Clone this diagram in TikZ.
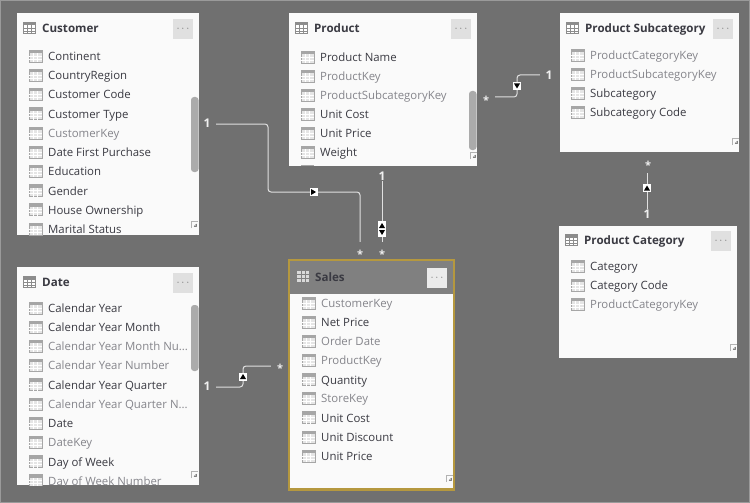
\documentclass[tikz,border=0pt]{standalone}
\usepackage{fontspec}
\setmainfont{Open Sans}
\definecolor{canvasgrey}{HTML}{707070}
\definecolor{edgegrey}{HTML}{9A9A9A}
\definecolor{headgrey}{HTML}{808080}
\definecolor{fieldtext}{HTML}{3A3A42}
\definecolor{hiddentext}{HTML}{85858B}
\definecolor{scrollgrey}{HTML}{ABABAB}
\definecolor{salesgold}{HTML}{B5983F}
\tikzset{
  tablebox/.style={fill=white!98!black, draw=none, inner sep=0pt, anchor=north west},
  tabletitle/.style={anchor=west, inner sep=0pt, text height=11pt, text depth=1.5pt, text=fieldtext, font=\fontsize{11.6}{12}\selectfont\bfseries},
  fieldname/.style={anchor=west, inner sep=0pt, text height=11pt, text depth=2pt, text=fieldtext, font=\fontsize{11.4}{12}\selectfont},
  hiddenname/.style={fieldname, text=hiddentext},
  morebtn/.style={fill=black!12, minimum size=20pt, inner sep=0pt, text=black!55, font=\fontsize{11}{12}\selectfont},
  rellink/.style={draw=white!88!black, line width=1pt, rounded corners=3pt},
  relend/.style={inner sep=0pt, minimum size=10pt, text=white!94!black, font=\fontsize{12}{12}\selectfont\bfseries},
  relstar/.style={relend, text height=16pt, text depth=4pt, font=\fontsize{11}{12}\selectfont\bfseries},
  relbox/.style={fill=white, inner sep=0pt, minimum width=8pt, minimum height=8pt},
  relup/.style={relbox, path picture={\fill[black] ([shift={(-3pt,-2.5pt)}]path picture bounding box.center) -- ++(6pt,0pt) -- ++(-3pt,5pt) -- cycle;}},
  reldown/.style={relbox, path picture={\fill[black] ([shift={(-3pt,2.5pt)}]path picture bounding box.center) -- ++(6pt,0pt) -- ++(-3pt,-5pt) -- cycle;}},
  relright/.style={relbox, path picture={\fill[black] ([shift={(-2.5pt,-3pt)}]path picture bounding box.center) -- ++(0pt,6pt) -- ++(5pt,-3pt) -- cycle;}},
  relupdown/.style={relbox, minimum height=16pt, path picture={
    \fill[black] ([shift={(-3pt,1pt)}]path picture bounding box.center) -- ++(6pt,0pt) -- ++(-3pt,5pt) -- cycle;
    \fill[black] ([shift={(-3pt,-1pt)}]path picture bounding box.center) -- ++(6pt,0pt) -- ++(-3pt,-5pt) -- cycle;}},
  fieldicon/.pic={
    \fill[black!10] (-6.5pt,-6pt) rectangle (6.5pt,6pt);
    \fill[black!35] (-6.5pt,3pt) rectangle (6.5pt,6pt);
    \draw[black!35, line width=0.7pt] (-6.5pt,-6pt) rectangle (6.5pt,6pt);
    \draw[white, line width=0.6pt] (-2.2pt,-6pt) -- (-2.2pt,3pt) (2.2pt,-6pt) -- (2.2pt,3pt) (-6.5pt,0pt) -- (6.5pt,0pt) (-6.5pt,-3pt) -- (6.5pt,-3pt);
  },
  titleicon/.pic={
    \fill[black!45] (-6.5pt,-6pt) rectangle (6.5pt,6pt);
    \fill[white] (-5.5pt,-5pt) rectangle (5.5pt,2.5pt);
    \draw[black!45, line width=0.6pt] (-2.2pt,-6pt) -- (-2.2pt,3pt) (2.2pt,-6pt) -- (2.2pt,3pt) (-6.5pt,-0.5pt) -- (6.5pt,-0.5pt) (-6.5pt,-3pt) -- (6.5pt,-3pt);
  },
  salesicon/.pic={
    \fill[white!85!black] (-6pt,-5.5pt) rectangle (6pt,5.5pt);
    \draw[headgrey, line width=0.7pt] (-2pt,-5.5pt) -- (-2pt,5.5pt) (2pt,-5.5pt) -- (2pt,5.5pt) (-6pt,2pt) -- (6pt,2pt) (-6pt,-2pt) -- (6pt,-2pt);
  },
  cornergrip/.pic={
    \draw[black!30, line width=0.5pt] (-7pt,0pt) -- (-7pt,7pt) -- (0pt,7pt);
    \draw[black!50, line width=0.6pt] (-4pt,1.5pt) -- (-1.5pt,4pt) (-1.5pt,1.5pt) -- (-1.5pt,4pt) (-4pt,1.5pt) -- (-1.5pt,1.5pt);
  }
}
% one row of a table: name, x of the text, y, style, text
\newcommand{\fieldrow}[5]{%
  \pic at (#2-12.5,#3) {fieldicon};
  \node[#4] (#1) at (#2,#3) {#5};
}
\begin{document}
\begin{tikzpicture}[x=1pt,y=-1pt]
  \useasboundingbox (0,0) rectangle (750,503);
  % Draw the canvas
  \fill[canvasgrey] (0,0) rectangle (750,503);
  \draw[edgegrey, line width=1pt] (0.5,0.5) rectangle (749.5,502.5);

  % Draw the Customer table
  \node[tablebox, minimum width=182pt, minimum height=222pt] (customer) at (17,13) {};
  \pic at (29.5,28) {titleicon};
  \node[tabletitle] (customertitle) at (42,28) {Customer};
  \node[morebtn] (customermore) at (183,29) {$\cdots$};
  \fieldrow{cuscontinent}{48}{56}{fieldname}{Continent}
  \fieldrow{cuscountry}{48}{75}{fieldname}{CountryRegion}
  \fieldrow{cuscode}{48}{94}{fieldname}{Customer Code}
  \fieldrow{custype}{48}{113.5}{fieldname}{Customer Type}
  \fieldrow{cuskey}{48}{133}{hiddenname}{CustomerKey}
  \fieldrow{cuspurchase}{48}{152}{fieldname}{Date First Purchase}
  \fieldrow{cuseducation}{48}{171}{fieldname}{Education}
  \fieldrow{cusgender}{48}{190.5}{fieldname}{Gender}
  \fieldrow{cushouse}{48}{209.5}{fieldname}{House Ownership}
  \fieldrow{cusmarital}{48}{229}{fieldname}{Marital Status}
  \fill[scrollgrey, rounded corners=3pt] (191,97) rectangle (198.5,172);
  \pic at (198,228) {cornergrip};

  % Draw the Product table
  \node[tablebox, minimum width=188pt, minimum height=153pt] (product) at (289,13) {};
  \pic at (301.5,28) {titleicon};
  \node[tabletitle] (producttitle) at (314,28) {Product};
  \node[morebtn] (productmore) at (461,29) {$\cdots$};
  \fieldrow{prodname}{320}{57}{fieldname}{Product Name}
  \fieldrow{prodkey}{320}{76}{hiddenname}{ProductKey}
  \fieldrow{prodsubkey}{320}{95}{hiddenname}{ProductSubcategoryKey}
  \fieldrow{prodcost}{320}{114}{fieldname}{Unit Cost}
  \fieldrow{prodprice}{320}{133}{fieldname}{Unit Price}
  \fieldrow{prodweight}{320}{152}{fieldname}{Weight}
  \fill[black!35] (301,164.5) rectangle (314,166);
  \fill[scrollgrey, rounded corners=3pt] (469,91) rectangle (476.5,150);
  \pic at (477,159) {cornergrip};

  % Draw the Product Subcategory table
  \node[tablebox, minimum width=179pt, minimum height=139pt] (subcategory) at (560,13) {};
  \pic at (572.5,28) {titleicon};
  \node[tabletitle] (subcategorytitle) at (585,28) {Product Subcategory};
  \node[morebtn] (subcategorymore) at (723,29) {$\cdots$};
  \fieldrow{subcatkey}{590}{55}{hiddenname}{ProductCategoryKey}
  \fieldrow{subsubkey}{590}{74}{hiddenname}{ProductSubcategoryKey}
  \fieldrow{subname}{590}{93}{fieldname}{Subcategory}
  \fieldrow{subcode}{590}{112}{fieldname}{Subcategory Code}
  \pic at (739,145) {cornergrip};

  % Draw the Product Category table
  \node[tablebox, minimum width=178pt, minimum height=132pt] (category) at (559,226) {};
  \pic at (571.5,240) {titleicon};
  \node[tabletitle] (categorytitle) at (584,240) {Product Category};
  \node[morebtn] (categorymore) at (721,241) {$\cdots$};
  \fieldrow{catname}{590}{266}{fieldname}{Category}
  \fieldrow{catcode}{590}{285}{fieldname}{Category Code}
  \fieldrow{catkey}{590}{304}{hiddenname}{ProductCategoryKey}
  \pic at (737,351) {cornergrip};

  % Draw the Date table
  \node[tablebox, minimum width=182pt, minimum height=218pt] (date) at (17,267) {};
  \pic at (29.5,282) {titleicon};
  \node[tabletitle] (datetitle) at (42,282) {Date};
  \node[morebtn] (datemore) at (183,283) {$\cdots$};
  \begin{scope}
    \clip (17,267) rectangle (199,485);
    \fieldrow{datyear}{48}{308}{fieldname}{Calendar Year}
    \fieldrow{datmonth}{48}{327}{fieldname}{Calendar Year Month}
    \fieldrow{datmonthnum}{48}{346}{hiddenname}{Calendar Year Month Nu...}
    \fieldrow{datyearnum}{48}{365}{hiddenname}{Calendar Year Number}
    \fieldrow{datquarter}{48}{384.5}{fieldname}{Calendar Year Quarter}
    \fieldrow{datquarternum}{48}{404}{hiddenname}{Calendar Year Quarter N...}
    \fieldrow{datdate}{48}{423}{fieldname}{Date}
    \fieldrow{datkey}{48}{442}{hiddenname}{DateKey}
    \fieldrow{datweek}{48}{461.5}{fieldname}{Day of Week}
    \fieldrow{datweeknum}{48}{480.5}{hiddenname}{Day of Week Number}
  \end{scope}
  \fill[scrollgrey, rounded corners=3pt] (191,305) rectangle (198.5,371);
  \pic at (198,478) {cornergrip};

  % Draw the Sales table with its gold frame
  \node[tablebox, minimum width=165pt, minimum height=229.5pt] (sales) at (289,260) {};
  \fill[headgrey] (289,260) rectangle (454,294);
  \draw[salesgold, line width=2.5pt] (289,260) rectangle (454,489.5);
  \pic at (303,276.5) {salesicon};
  \node[tabletitle] (salestitle) at (315,276.5) {Sales};
  \node[morebtn, fill=black!8] (salesmore) at (437,278) {$\cdots$};
  \fieldrow{salcustomer}{321}{303}{hiddenname}{CustomerKey}
  \fieldrow{salprice}{321}{322}{fieldname}{Net Price}
  \fieldrow{salorder}{321}{341}{hiddenname}{Order Date}
  \fieldrow{salproduct}{321}{360}{hiddenname}{ProductKey}
  \fieldrow{salquantity}{321}{379.5}{fieldname}{Quantity}
  \fieldrow{salstore}{321}{398}{hiddenname}{StoreKey}
  \fieldrow{salcost}{321}{417.5}{fieldname}{Unit Cost}
  \fieldrow{saldiscount}{321}{437}{fieldname}{Unit Discount}
  \fieldrow{salunit}{321}{456}{fieldname}{Unit Price}
  \pic at (453,482) {cornergrip};

  % Draw the relationship ends
  \node[relend] (customerone) at (207,123.5) {1};
  \node[relstar] (salesstara) at (360,252) {*};
  \node[relend] (productone) at (382,176) {1};
  \node[relstar] (salesstarb) at (382,252) {*};
  \node[relstar] (productstar) at (486,98) {*};
  \node[relend] (subcategoryone) at (549,75) {1};
  \node[relstar] (subcategorystar) at (648,163) {*};
  \node[relend] (categoryone) at (647,214) {1};
  \node[relend] (dateone) at (207,386.5) {1};
  \node[relstar] (salesstarc) at (280,366) {*};

  % Draw the bends of the relationships
  \coordinate (customerbenda) at (268,124);
  \coordinate (customerbendb) at (268,192);
  \coordinate (customerbendc) at (360,192);
  \coordinate (subcategorybenda) at (517,97);
  \coordinate (subcategorybendb) at (517,75);
  \coordinate (datebenda) at (243,387);
  \coordinate (datebendb) at (243,366);

  % Draw the relationships
  \draw[rellink] (customerone.east) ++(4,0.5) -- (customerbenda) -- (customerbendb) -- (customerbendc) -- (salesstara.north);
  \draw[rellink] (productone.south) -- (salesstarb.north);
  \draw[rellink] (productstar.east) ++(4,-1) -- (subcategorybenda) -- (subcategorybendb) -- ([xshift=-4pt]subcategoryone.west);
  \draw[rellink] (subcategorystar.south) ++(-1,0) -- (categoryone.north);
  \draw[rellink] (dateone.east) ++(4,0.5) -- (datebenda) -- (datebendb) -- ([xshift=-4pt]salesstarc.west);

  % Draw the direction markers
  \node[relright] (customerarrow) at (313.5,192) {};
  \node[relupdown] (productarrow) at (382,229) {};
  \node[reldown] (subcategoryarrow) at (517,86) {};
  \node[relup] (categoryarrow) at (647,188) {};
  \node[relup] (datearrow) at (243,376.5) {};
\end{tikzpicture}
\end{document}
